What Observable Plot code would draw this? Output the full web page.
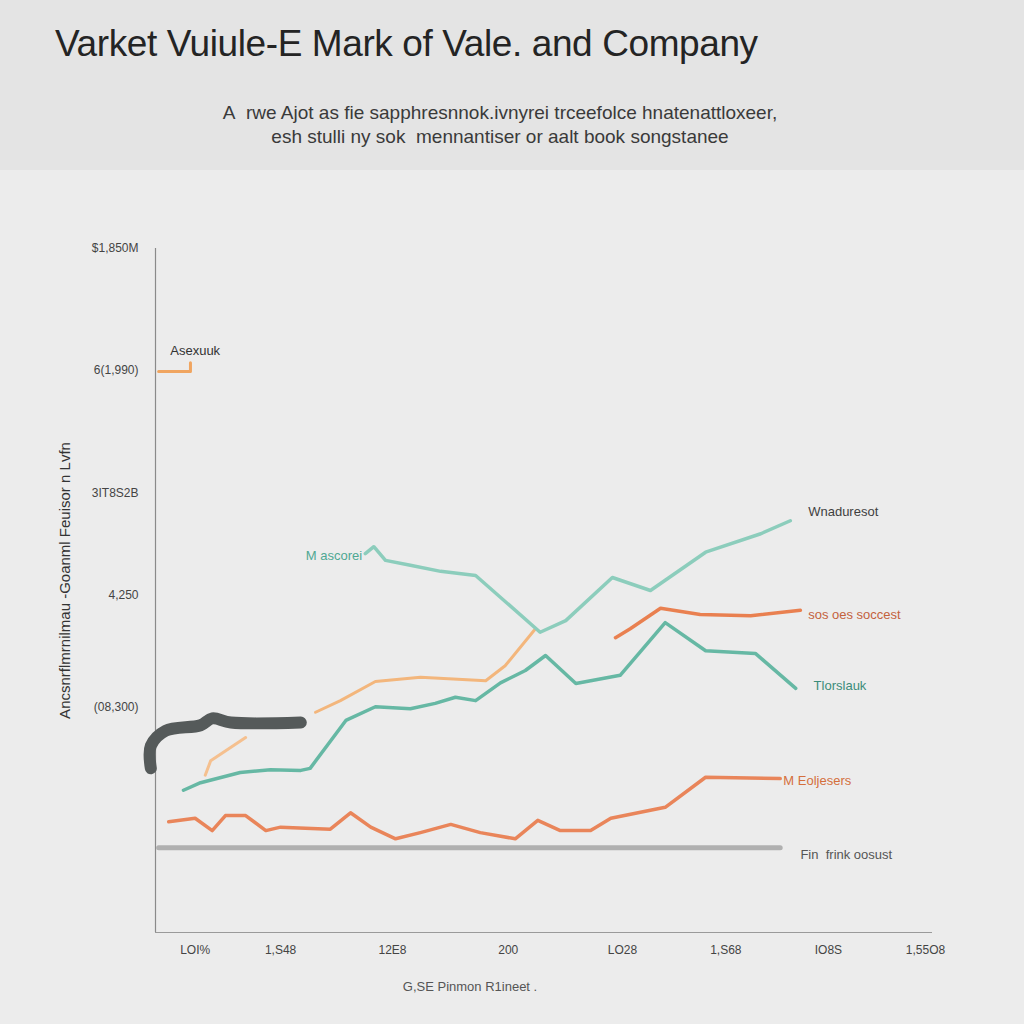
<!DOCTYPE html>
<html>
<head>
<meta charset="utf-8">
<script src="https://cdn.jsdelivr.net/npm/d3@7"></script>
<script src="https://cdn.jsdelivr.net/npm/@observablehq/plot@0.6"></script>
<style>
  html, body { margin: 0; padding: 0; background: #ececec; width: 1024px; height: 1024px; overflow: hidden; }
  #header { position: absolute; left: 0; top: 0; width: 1024px; height: 170px; background: #e4e4e4; }
  #title { position: absolute; left: 55px; top: 23px; font-family: "Liberation Sans", Arial, sans-serif; font-size: 37px; color: #242424; letter-spacing: -0.4px; white-space: nowrap; }
  #subtitle { position: absolute; left: 0; width: 1000px; top: 101px; text-align: center; font-family: "Liberation Sans", sans-serif; font-size: 19px; line-height: 24px; color: #3a3a3a; }
  #chart { position: absolute; left: 0; top: 170px; }
  #caption { position: absolute; left: 0; width: 940px; top: 979px; text-align: center; font-family: "Liberation Sans", sans-serif; font-size: 13px; color: #555; }
</style>
</head>
<body>
<div id="header">
  <div id="title">Varket Vuiule-E Mark of Vale. and Company</div>
  <div id="subtitle">A&nbsp; rwe Ajot as fie sapphresnnok.ivnyrei trceefolce hnatenattloxeer,<br>esh stulli ny sok&nbsp; mennantiser or aalt book songstanee</div>
</div>
<div id="chart"></div>
<div id="caption">G,SE Pinmon R1ineet .</div>
<script>
// ---- data ----
const xTickValues = [5.1, 16.1, 30.5, 45.4, 60.1, 73.4, 86.6, 99.1];
const xTickLabels = ["LOI%", "1,S48", "12E8", "200", "LO28", "1,S68", "IO8S", "1,55O8"];
const yTickValues = [32.9, 49.3, 64.2, 82.2, 100];
const yTickLabels = ["(08,300)", "4,250", "3IT8S2B", "6(1,990)", "$1,850M"];
const yTitle = "Ancsnrflmrnilmau -Goanml Feuisor n Lvfn";

const tealUpperX = [27.0, 28.1, 29.6, 32.8, 36.7, 41.2, 49.5, 52.8, 58.8, 63.7, 70.8, 77.9, 81.7];
const tealUpperY = [55.4, 56.4, 54.4, 53.7, 52.8, 52.2, 43.9, 45.6, 51.9, 50.0, 55.6, 58.3, 60.2];

const tealLowerX = [3.6, 5.8, 10.9, 14.8, 18.7, 19.9, 24.5, 28.3, 32.8, 36.0, 38.6, 41.2, 44.4, 47.6, 50.2, 54.1, 59.8, 65.6, 70.8, 77.2, 82.4];
const tealLowerY = [20.8, 21.9, 23.4, 23.8, 23.7, 24.0, 31.0, 33.0, 32.7, 33.5, 34.4, 33.9, 36.5, 38.3, 40.5, 36.4, 37.6, 45.3, 41.2, 40.8, 35.7];

const peachAX = [6.4, 7.1, 11.6];
const peachAY = [23.0, 25.1, 28.5];
const peachBX = [20.6, 23.8, 28.3, 34.1, 42.5, 45.0, 48.9];
const peachBY = [32.2, 33.9, 36.7, 37.3, 36.8, 39.0, 44.4];

const orangeUpperX = [59.2, 61.1, 65.0, 70.1, 76.6, 83.0];
const orangeUpperY = [43.1, 44.4, 47.4, 46.5, 46.3, 47.1];

const orangeLowerX = [1.7, 5.1, 7.3, 9.0, 11.6, 14.2, 16.1, 22.5, 25.1, 27.7, 30.9, 34.1, 38.0, 41.8, 46.3, 49.2, 52.1, 56.0, 58.6, 65.6, 70.8, 80.4];
const orangeLowerY = [16.2, 16.7, 14.9, 17.1, 17.1, 14.9, 15.4, 15.1, 17.5, 15.4, 13.7, 14.6, 15.8, 14.6, 13.7, 16.4, 14.9, 14.9, 16.7, 18.3, 22.7, 22.5];

const grayX = [0.4, 80.4];
const grayY = [12.4, 12.4];

const darkX = [-0.6, -0.6, 1.3, 5.8, 7.3, 9.7, 18.7];
const darkY = [24.0, 27.3, 29.5, 30.3, 31.3, 30.7, 30.7];

const smallOrangeX = [0.4, 4.5, 4.5];
const smallOrangeY = [82.0, 82.0, 83.3];

const labelTexts = ["Asexuuk", "M ascorei", "Wnaduresot", "sos oes soccest", "Tlorslauk", "M Eoljesers", "Fin  frink oosust"];
const labelX = [1.9, 26.6, 84.0, 84.0, 84.7, 80.8, 83.0];
const labelY = [85.0, 55.1, 61.5, 46.5, 36.1, 22.2, 11.4];
const labelColors = ["#333333", "#4fa893", "#3f3f3f", "#c4623d", "#3b8c7a", "#d46f3c", "#555555"];
const labelAnchors = ["start", "end", "start", "start", "start", "start", "start"];

// ---- build tables ----
const pts = (xs, ys) => xs.map((x, i) => ({x, y: ys[i]}));
const labels = labelTexts.map((t, i) => ({t, x: labelX[i], y: labelY[i], c: labelColors[i], a: labelAnchors[i]}));

const chart = Plot.plot({
  width: 1024,
  height: 800,
  marginLeft: 155,
  marginRight: 92,
  marginTop: 78,
  marginBottom: 38,
  x: {domain: [0, 100]},
  y: {domain: [0, 100]},
  style: {background: "transparent", fontFamily: "'Liberation Sans', sans-serif", fontSize: "12px", color: "#444"},
  marks: [
    Plot.axisX({ticks: xTickValues, tickFormat: (d, i) => xTickLabels[i], tickSize: 0, tickPadding: 13, label: null, fontSize: 12}),
    Plot.axisY({ticks: yTickValues, tickFormat: (d, i) => yTickLabels[i], tickSize: 0, tickPadding: 17, label: null, fontSize: 12}),
    Plot.text([yTitle], {frameAnchor: "left", dx: -90, dy: -10, rotate: -90, textAnchor: "middle", fontSize: 15, fill: "#333", text: d => d}),
    Plot.ruleX([0], {stroke: "#8a8a8a", strokeWidth: 1.2}),
    Plot.ruleY([0], {stroke: "#9a9a9a", strokeWidth: 1.2}),
    Plot.line(pts(grayX, grayY), {x: "x", y: "y", stroke: "#b0b0b0", strokeWidth: 5}),
    Plot.line(pts(darkX, darkY), {x: "x", y: "y", stroke: "#555a5a", strokeWidth: 12, curve: "catmull-rom", strokeLinecap: "round", strokeLinejoin: "round"}),
    Plot.line(pts(peachAX, peachAY), {x: "x", y: "y", stroke: "#f5c08f", strokeWidth: 3}),
    Plot.line(pts(peachBX, peachBY), {x: "x", y: "y", stroke: "#f3b67c", strokeWidth: 3}),
    Plot.line(pts(orangeLowerX, orangeLowerY), {x: "x", y: "y", stroke: "#e9855a", strokeWidth: 3.5}),
    Plot.line(pts(orangeUpperX, orangeUpperY), {x: "x", y: "y", stroke: "#e98050", strokeWidth: 3.5}),
    Plot.line(pts(smallOrangeX, smallOrangeY), {x: "x", y: "y", stroke: "#f0a560", strokeWidth: 3}),
    Plot.line(pts(tealLowerX, tealLowerY), {x: "x", y: "y", stroke: "#66b8a4", strokeWidth: 3.5}),
    Plot.line(pts(tealUpperX, tealUpperY), {x: "x", y: "y", stroke: "#8ccdbc", strokeWidth: 3.5}),
    Plot.text(labels.filter(d => d.a === "start"), {x: "x", y: "y", text: "t", fill: "c", textAnchor: "start", fontSize: 13}),
    Plot.text(labels.filter(d => d.a === "end"), {x: "x", y: "y", text: "t", fill: "c", textAnchor: "end", fontSize: 13})
  ]
});
document.getElementById("chart").appendChild(chart);
</script>
</body>
</html>
